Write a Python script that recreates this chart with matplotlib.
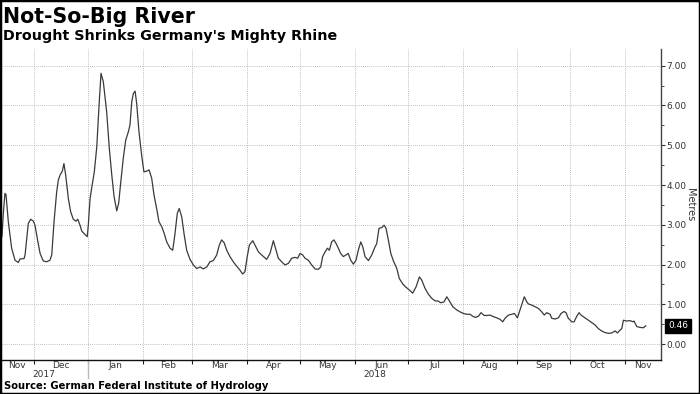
import matplotlib
matplotlib.use("Agg")
import matplotlib.pyplot as plt
import matplotlib.dates as mdates
import matplotlib.ticker as mticker
from matplotlib.patches import Rectangle
import pandas as pd

# Rhine water level at Kaub (days since START, metres)
START = "2017-11-12"
DAYS = [
    1.1, 1.9, 2.8, 3.4, 4.7, 6.6, 8.5, 10.4, 11.3, 13.6, 14.2, 16.0, 17.4, 18.9, 19.8,
    21.1, 22.7, 24.5, 26.4, 28.3, 29.3, 30.6, 32.1, 33.0, 34.0, 35.3, 36.2, 37.2, 38.7,
    40.0, 41.5, 43.0, 44.0, 45.3, 46.3, 48.1, 49.4, 50.0, 51.0, 51.9, 53.4, 54.8, 56.1,
    57.2, 58.5, 60.4, 61.9, 63.3, 64.6, 66.1, 67.2, 68.4, 69.8, 71.2, 72.7, 73.6, 74.6,
    75.5, 76.5, 77.4, 78.7, 80.2, 81.5, 83.1, 84.4, 85.9, 87.2, 88.7, 90.0, 91.6, 93.0,
    94.4, 96.3, 97.8, 99.1, 100.4, 101.5, 102.9, 104.2, 105.7, 107.6, 109.5, 111.4,
    113.3, 115.1, 117.1, 118.9, 120.8, 122.7, 124.2, 125.5, 126.9, 128.4, 130.2, 132.1,
    134.0, 135.9, 137.4, 138.7, 140.0, 141.2, 143.1, 144.4, 146.3, 148.2, 151.0, 152.9,
    154.8, 156.3, 157.6, 159.5, 161.4, 163.3, 165.2, 167.1, 168.6, 169.9, 171.4, 172.7,
    174.6, 176.5, 178.4, 180.3, 181.6, 182.7, 184.1, 185.4, 186.5, 187.8, 189.1, 190.3,
    191.6, 192.9, 194.4, 195.9, 197.2, 198.6, 200.1, 201.6, 202.9, 204.3, 205.4, 206.7,
    208.6, 210.5, 212.4, 213.3, 214.6, 216.2, 217.5, 218.6, 219.9, 221.3, 222.7, 224.7,
    226.1, 228.1, 229.9, 231.8, 233.7, 235.6, 237.5, 238.8, 240.7, 242.5, 244.5, 246.3,
    248.2, 249.6, 251.4, 253.0, 254.4, 256.4, 258.6, 260.5, 262.4, 264.3, 266.2, 267.7,
    269.2, 270.9, 272.4, 274.1, 275.8, 277.5, 279.4, 281.3, 283.2, 284.7, 286.0, 287.9,
    289.8, 291.3, 293.0, 294.1, 295.4, 296.9, 298.3, 299.2, 301.1, 303.0, 304.8, 306.8,
    308.2, 309.6, 311.5, 312.4, 314.3, 316.2, 317.7, 319.4, 320.5, 321.8, 323.8, 325.1,
    326.6, 327.9, 329.0, 331.3, 333.2, 335.1, 337.0, 338.8, 340.7, 342.6, 344.5, 346.4,
    348.3, 349.6, 351.1, 352.1, 353.0, 354.9, 356.8, 358.3, 359.0, 360.6, 362.4, 364.3,
    365.7,
]
LEVEL = [
    2.70, 3.30, 3.79, 3.76, 3.08, 2.41, 2.11, 2.05, 2.14, 2.15, 2.24, 3.03, 3.14, 3.09, 2.99,
    2.66, 2.28, 2.09, 2.07, 2.11, 2.24, 3.08, 3.83, 4.12, 4.25, 4.35, 4.54, 4.25, 3.66,
    3.33, 3.14, 3.09, 3.14, 2.99, 2.84, 2.76, 2.70, 2.99, 3.66, 3.92, 4.33, 4.96, 6.01,
    6.81, 6.60, 5.84, 4.92, 4.25, 3.71, 3.35, 3.54, 4.08, 4.67, 5.13, 5.34, 5.51, 6.09,
    6.30, 6.36, 6.05, 5.34, 4.75, 4.33, 4.35, 4.38, 4.17, 3.75, 3.41, 3.08, 2.95, 2.78,
    2.57, 2.41, 2.36, 2.78, 3.29, 3.41, 3.20, 2.78, 2.36, 2.13, 1.99, 1.90,
    1.94, 1.89, 1.94, 2.07, 2.10, 2.24, 2.49, 2.62, 2.55, 2.36, 2.20, 2.07,
    1.96, 1.86, 1.76, 1.82, 2.20, 2.49, 2.60, 2.49, 2.32, 2.24, 2.13, 2.28,
    2.60, 2.36, 2.16, 2.07, 1.99, 2.03, 2.16, 2.18, 2.16, 2.28, 2.24, 2.16,
    2.11, 1.99, 1.89, 1.88, 1.94, 2.20, 2.32, 2.41, 2.36, 2.57, 2.62, 2.53,
    2.41, 2.28, 2.20, 2.24, 2.28, 2.11, 2.01, 2.11, 2.36, 2.57, 2.45, 2.20,
    2.10, 2.24, 2.45, 2.52, 2.91, 2.93, 2.99, 2.91, 2.62, 2.28, 2.10, 1.90,
    1.65, 1.51, 1.43, 1.36, 1.28, 1.44, 1.69, 1.61, 1.40, 1.26, 1.15, 1.09,
    1.08, 1.04, 1.06, 1.19, 1.09, 0.94, 0.86, 0.81, 0.77, 0.75, 0.75, 0.70,
    0.67, 0.70, 0.79, 0.72, 0.72, 0.73, 0.69, 0.66, 0.62, 0.56, 0.65, 0.73,
    0.75, 0.77, 0.66, 0.81, 0.98, 1.19, 1.06, 1.01, 0.98, 0.94, 0.90, 0.81,
    0.73, 0.79, 0.75, 0.65, 0.63, 0.66, 0.77, 0.82, 0.79, 0.65, 0.56, 0.56,
    0.70, 0.79, 0.73, 0.66, 0.60, 0.54, 0.48, 0.39, 0.33, 0.29, 0.27, 0.28,
    0.33, 0.28, 0.35, 0.39, 0.60, 0.58, 0.59, 0.56, 0.58, 0.44, 0.42, 0.41,
    0.46,
]
AXIS_DAYS = 374.3

TITLE = "Not-So-Big River"
SUBTITLE = "Drought Shrinks Germany's Mighty Rhine"
SOURCE = "Source: German Federal Institute of Hydrology"

NARROW = ["Liberation Sans Narrow", "DejaVu Sans"]
W, H = 700, 394


def main() -> None:
    fig = plt.figure(figsize=(W / 100, H / 100), dpi=100)
    ax = fig.add_axes([0.0, 34 / H, 661 / W, 311 / H])

    start = pd.Timestamp(START)
    end = start + pd.Timedelta(days=AXIS_DAYS)
    dates = start + pd.to_timedelta(DAYS, unit="D")
    ax.plot(dates, LEVEL, color="#3a3a3a", lw=0.9)
    ax.set_xlim(start, end)
    ax.set_ylim(-0.40, 7.42)

    # y axis on the right
    ax.yaxis.tick_right()
    ax.yaxis.set_major_locator(mticker.MultipleLocator(1))
    ax.yaxis.set_minor_locator(mticker.MultipleLocator(0.5))
    ax.yaxis.set_major_formatter(mticker.FormatStrFormatter("%.2f"))
    ax.tick_params(axis="y", which="major", direction="out", length=3, width=0.8,
                   color="#333333", labelsize=6.5, labelcolor="#333333", pad=1)
    ax.tick_params(axis="y", which="minor", direction="out", length=2, width=0.6, color="#333333")
    for lab in ax.get_yticklabels():
        lab.set_family(NARROW)

    # month boundaries as ticks, labels centred in visible part of month
    ax.xaxis.set_major_locator(mdates.MonthLocator())
    ax.xaxis.set_major_formatter(mticker.NullFormatter())
    ax.tick_params(axis="x", which="major", direction="out", length=3, width=0.8, color="#222222")
    bounds = pd.date_range(start.to_period("M").to_timestamp(), end + pd.offsets.MonthBegin(1), freq="MS")
    centres, labels = [], []
    for a, b in zip(bounds[:-1], bounds[1:]):
        lo, hi = max(a, start), min(b, end)
        if hi <= lo:
            continue
        centres.append(mdates.date2num(lo) + (mdates.date2num(hi) - mdates.date2num(lo)) / 2)
        labels.append(a.strftime("%b"))
    ax.xaxis.set_minor_locator(mticker.FixedLocator(centres))
    ax.xaxis.set_minor_formatter(mticker.FixedFormatter(labels))
    ax.tick_params(axis="x", which="minor", length=0, labelsize=6.5, labelcolor="#333333", pad=1)
    for lab in ax.get_xticklabels(minor=True):
        lab.set_family(NARROW)

    # year labels and the year separator
    xt = ax.get_xaxis_transform()
    for year in (start.year, end.year):
        lo = max(pd.Timestamp(f"{year}-01-01"), start)
        hi = min(pd.Timestamp(f"{year + 1}-01-01"), end)
        mid = mdates.date2num(lo) + (mdates.date2num(hi) - mdates.date2num(lo)) / 2
        ax.text(mid, -0.032, str(year), transform=xt, ha="center", va="top",
                fontsize=6.5, color="#333333", family=NARROW)
    sep = pd.Timestamp(f"{end.year}-01-01")
    ax.plot([sep, sep], [0, -0.058], transform=xt, color="#bbbbbb", lw=1.0, clip_on=False)

    ax.grid(axis="both", which="major", ls=(0, (1, 1.5)), color="#aaaaaa", lw=0.6)
    for side in ("left", "top"):
        ax.spines[side].set_visible(False)
    ax.spines["bottom"].set_color("#111111")
    ax.spines["bottom"].set_linewidth(1.0)
    ax.spines["right"].set_color("#444444")
    ax.spines["right"].set_linewidth(1.0)

    # last value flag
    ax.annotate(f"{LEVEL[-1]:.2f}", xy=(1.0, LEVEL[-1]), xycoords=("axes fraction", "data"),
                xytext=(5, 0), textcoords="offset points", ha="left", va="center",
                fontsize=6.5, color="white", family=NARROW,
                bbox=dict(boxstyle="square,pad=0.3", fc="black", ec="black"))

    fig.text(690 / W, 1 - 205 / H, "Metres", rotation=270, ha="center", va="center",
             fontsize=7, color="#333333", family=NARROW)

    fig.text(3 / W, 1 - 23 / H, TITLE, fontsize=14.8, weight="bold", va="baseline", color="black")
    fig.text(3 / W, 1 - 40 / H, SUBTITLE, fontsize=10.3, weight="bold", va="baseline", color="black")
    fig.text(4 / W, 1 - 389 / H, SOURCE, fontsize=7.2, weight="bold", va="baseline", color="black")

    fig.add_artist(Rectangle((0, 0), 1, 1, transform=fig.transFigure, fill=False,
                             ec="black", lw=2.5, clip_on=False))
    fig.savefig("out.png", dpi=100)
    plt.close(fig)


if __name__ == "__main__":
    main()
